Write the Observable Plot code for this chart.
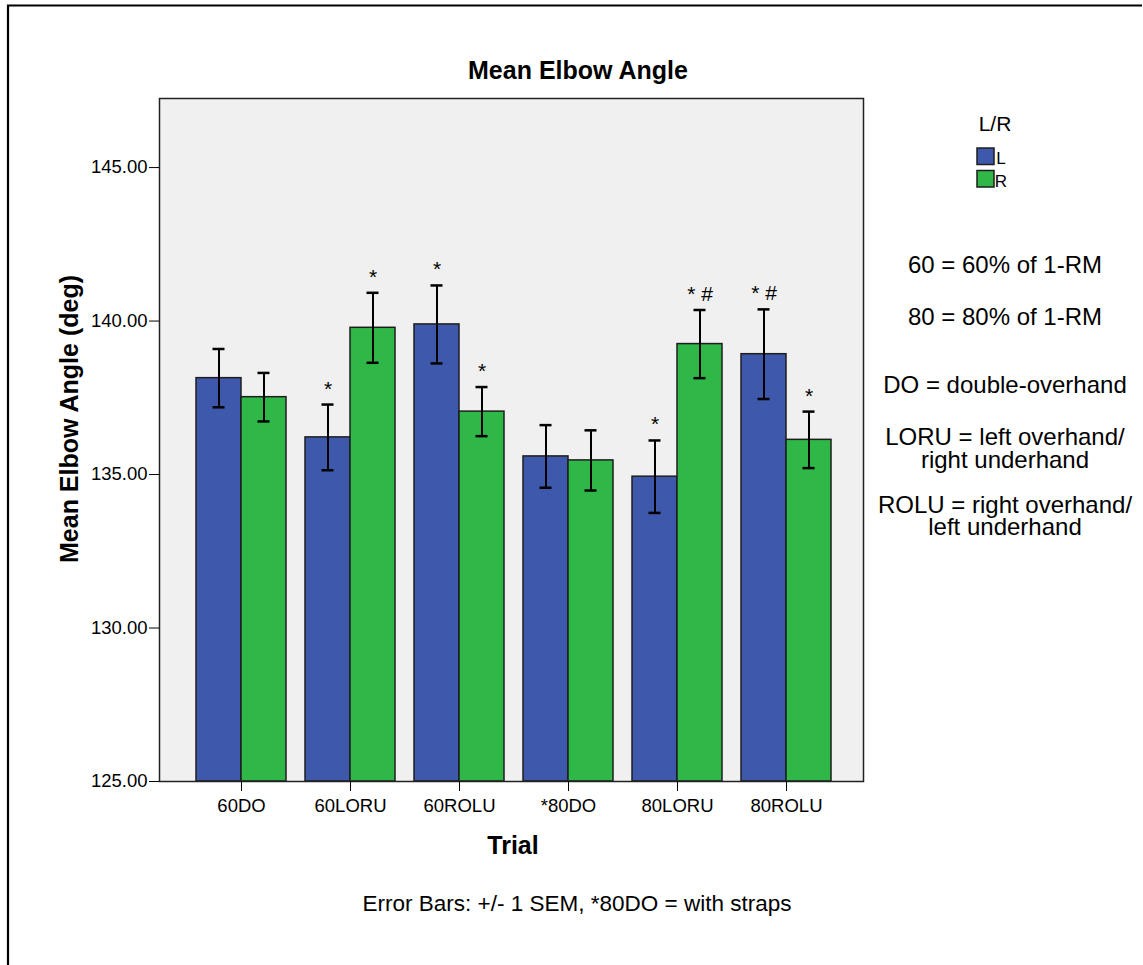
<!DOCTYPE html>
<html>
<head>
<meta charset="utf-8">
<script src="https://cdn.jsdelivr.net/npm/d3@7"></script>
<script src="https://cdn.jsdelivr.net/npm/@observablehq/plot@0.6"></script>
<style>
  body { margin: 0; background: #fff; }
  #chart svg { display: block; font-family: "Liberation Sans", Arial, sans-serif; }
</style>
</head>
<body>
<div id="chart"></div>
<script>
// Trials and hand sides
const trials = ["60DO", "60LORU", "60ROLU", "*80DO", "80LORU", "80ROLU"];
const sides = ["L", "R"];
const sideColors = ["#3e58ac", "#2fb848"];

// Mean elbow angle (deg) and its SEM, per trial
const meanL = [138.14, 136.21, 139.89, 135.59, 134.93, 138.92];
const semL  = [0.95, 1.07, 1.27, 1.02, 1.18, 1.46];
const meanR = [137.52, 139.78, 137.05, 135.46, 139.25, 136.13];
const semR  = [0.79, 1.14, 0.80, 0.98, 1.11, 0.92];

// Significance markers above each bar
const markL = ["", "*", "*", "", "*", "* #"];
const markR = ["", "*", "*", "", "* #", "*"];

// Value axis
const yDomain = [125, 147.25];
const yTicks = [125, 130, 135, 140, 145];

// Texts
const titleText = "Mean Elbow Angle";
const yLabel = "Mean Elbow Angle (deg)";
const xLabel = "Trial";
const legendTitle = "L/R";
const caption = "Error Bars: +/- 1 SEM, *80DO = with straps";
const notes = [
  "60 = 60% of 1-RM",
  "80 = 80% of 1-RM",
  "DO = double-overhand",
  "LORU = left overhand/",
  "right underhand",
  "ROLU = right overhand/",
  "left underhand"
];
const noteBaselines = [273, 325, 393, 445, 468, 513, 535];

const series = {
  L: trials.map((t, i) => ({trial: t, side: "L", mean: meanL[i], sem: semL[i], mark: markL[i]})),
  R: trials.map((t, i) => ({trial: t, side: "R", mean: meanR[i], sem: semR[i], mark: markR[i]}))
};

const W = 1143, H = 965;
const font = "'Liberation Sans', Arial, sans-serif";

// Each trial band (90px) holds the L bar on its left half and the R bar on its right half
const half = 45;       // half of the trial band, in px
const capInset = 16.5; // error-bar cap inset inside a bar, in px

function sideMarks(side) {
  const data = series[side];
  const left = side === "L";
  const off = left ? -half / 2 : half / 2;
  const inL = left ? 0 : half, inR = left ? half : 0;
  return [
    Plot.barY(data, {x: "trial", y1: yDomain[0], y2: "mean", fill: "side",
      insetLeft: inL, insetRight: inR, stroke: "#1e1e1e", strokeWidth: 1.5}),
    Plot.ruleX(data, {x: "trial", y1: d => d.mean - d.sem, y2: d => d.mean + d.sem,
      dx: off, stroke: "#000", strokeWidth: 2}),
    Plot.tickY(data, {x: "trial", y: d => d.mean + d.sem,
      insetLeft: inL + capInset, insetRight: inR + capInset, stroke: "#000", strokeWidth: 2.5}),
    Plot.tickY(data, {x: "trial", y: d => d.mean - d.sem,
      insetLeft: inL + capInset, insetRight: inR + capInset, stroke: "#000", strokeWidth: 2.5}),
    Plot.text(data, {x: "trial", y: d => d.mean + d.sem, text: "mark", dx: off,
      lineAnchor: "bottom", dy: -9, fontSize: 21, fill: "#000"})
  ];
}

const chart = Plot.plot({
  width: W,
  height: H,
  marginLeft: 159,
  marginRight: 280,
  marginTop: 98,
  marginBottom: 184,
  style: {fontFamily: font, color: "#000", background: "transparent", overflow: "visible"},
  x: {domain: trials, paddingInner: 0.177, paddingOuter: 0.309, align: 0.53, label: null},
  y: {domain: yDomain, label: null},
  color: {domain: sides, range: sideColors},
  marks: [
    Plot.frame({fill: "#f0f0f0"}),
    ...sideMarks("L"),
    ...sideMarks("R"),
    Plot.frame({stroke: "#222", strokeWidth: 1.5}),
    Plot.axisY({ticks: yTicks, tickFormat: d => d.toFixed(2), tickSize: 10, tickPadding: 2, fontSize: 18.5, label: null}),
    Plot.axisX({tickSize: 10, tickPadding: 7, fontSize: 18.5, label: null})
  ]
});

document.getElementById("chart").append(chart);

// Titles, legend and notes around the plot area
const svg = d3.select(chart);
const g = svg.append("g").attr("font-family", font).attr("fill", "#000");

// outer figure border (top and left edges)
g.append("path")
  .attr("d", `M8,${H} V5.5 H${W - 1}`)
  .attr("fill", "none").attr("stroke", "#000").attr("stroke-width", 2.2);

g.append("text").text(titleText)
  .attr("x", 578).attr("y", 79).attr("text-anchor", "middle")
  .attr("font-size", 25).attr("font-weight", "bold");

g.append("text").text(yLabel)
  .attr("transform", "translate(78,419) rotate(-90)").attr("text-anchor", "middle")
  .attr("font-size", 25).attr("font-weight", "bold");

g.append("text").text(xLabel)
  .attr("x", 513).attr("y", 854).attr("text-anchor", "middle")
  .attr("font-size", 25).attr("font-weight", "bold");

g.append("text").text(caption)
  .attr("x", 577).attr("y", 911).attr("text-anchor", "middle")
  .attr("font-size", 22.5);

// legend
g.append("text").text(legendTitle)
  .attr("x", 995).attr("y", 131).attr("text-anchor", "middle")
  .attr("font-size", 21);
sides.forEach((s, i) => {
  g.append("rect")
    .attr("x", 977).attr("y", 148 + i * 22.5).attr("width", 17).attr("height", 16.5)
    .attr("fill", sideColors[i]).attr("stroke", "#1e1e1e").attr("stroke-width", 1.5);
  g.append("text").text(s)
    .attr("x", 1001).attr("y", 164 + i * 23)
    .attr("font-size", 17);
});

// abbreviation notes
notes.forEach((n, i) => {
  g.append("text").text(n)
    .attr("x", 1005).attr("y", noteBaselines[i]).attr("text-anchor", "middle")
    .attr("font-size", 24);
});
</script>
</body>
</html>
